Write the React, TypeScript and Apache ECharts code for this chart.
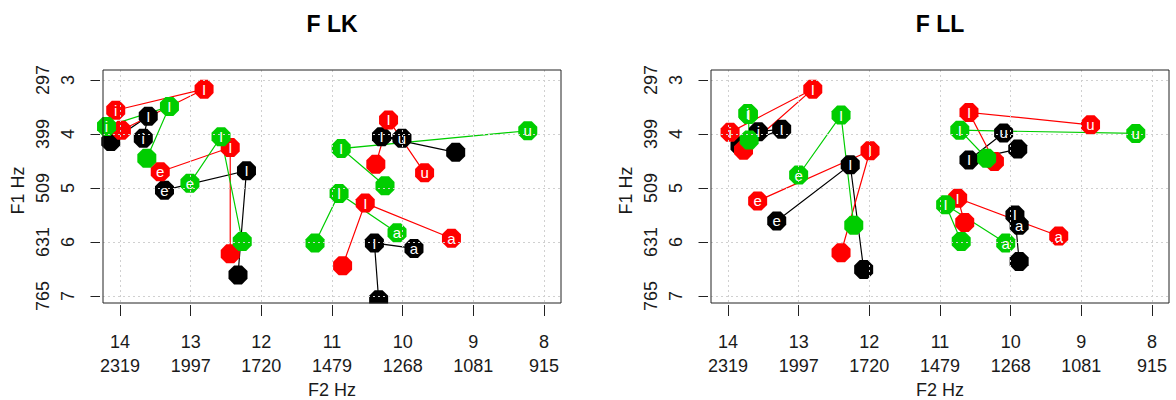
import React, { useEffect, useRef } from "react";
import * as echarts from "echarts";

const FONT = '"Liberation Sans", Arial, Helvetica, sans-serif';

// Tick values (Bark) and their Hz labels
const xBarkTicks = [8, 9, 10, 11, 12, 13, 14];
const xHzLabels = ["915", "1081", "1268", "1479", "1720", "1997", "2319"];
const yBarkTicks = [3, 4, 5, 6, 7];
const yHzLabels = ["297", "399", "509", "631", "765"];

const panelTitles = ["F LK", "F LL"];
const HUB = "I";

// Each group: [vowel, vowelF2, vowelF1, hubF2, hubF1, endF2, endF1] in Bark
const lkBlack = [
  ["i", 13.67, 4.08, 13.6, 3.67, 14.13, 4.14],
  ["e", 13.37, 5.04, 12.21, 4.68, 12.33, 6.61],
  ["u", 10.01, 4.08, 10.3, 4.05, 9.25, 4.34],
  ["a", 9.84, 6.12, 10.4, 6.02, 10.34, 7.07],
];
const lkRed = [
  ["i", 14.06, 3.56, 12.81, 3.17, 13.98, 3.93],
  ["e", 13.43, 4.7, 12.44, 4.25, 12.44, 6.22],
  ["u", 9.69, 4.72, 10.2, 3.74, 10.38, 4.56],
  ["a", 9.31, 5.93, 10.53, 5.28, 10.85, 6.44],
];
const lkGreen = [
  ["i", 14.19, 3.86, 13.3, 3.49, 13.62, 4.45],
  ["e", 13.01, 4.91, 12.57, 4.05, 12.27, 5.99],
  ["u", 8.23, 3.94, 10.87, 4.27, 10.25, 4.96],
  ["a", 10.08, 5.83, 10.9, 5.1, 11.24, 6.02],
];
const llBlack = [
  ["i", 13.57, 3.96, 13.24, 3.91, 13.83, 4.22],
  ["e", 13.31, 5.61, 12.27, 4.57, 12.08, 6.51],
  ["u", 10.1, 3.98, 10.59, 4.48, 9.9, 4.28],
  ["a", 9.88, 5.69, 9.94, 5.5, 9.88, 6.36],
];
const llRed = [
  ["i", 13.97, 3.97, 12.8, 3.17, 13.78, 4.3],
  ["e", 13.58, 5.24, 11.99, 4.31, 12.4, 6.2],
  ["u", 8.87, 3.83, 10.59, 3.6, 10.23, 4.51],
  ["a", 9.32, 5.89, 10.75, 5.19, 10.65, 5.64],
];
const llGreen = [
  ["i", 13.72, 3.62, 13.71, 3.64, 13.7, 4.11],
  ["e", 13.0, 4.76, 12.4, 3.65, 12.22, 5.69],
  ["u", 8.23, 3.99, 10.72, 3.93, 10.34, 4.45],
  ["a", 10.07, 6.02, 10.92, 5.31, 10.7, 5.99],
];

const colors = { black: "#000000", red: "#FF0000", green: "#00CD00" };

const panels = [
  [
    { groups: lkBlack, color: colors.black },
    { groups: lkRed, color: colors.red },
    { groups: lkGreen, color: colors.green },
  ],
  [
    { groups: llBlack, color: colors.black },
    { groups: llRed, color: colors.red },
    { groups: llGreen, color: colors.green },
  ],
];

const OCTAGON = (() => {
  const pts: string[] = [];
  for (let k = 0; k < 8; k++) {
    const a = ((22.5 + 45 * k) * Math.PI) / 180;
    pts.push(`${(50 + 50 * Math.cos(a)).toFixed(3)} ${(50 + 50 * Math.sin(a)).toFixed(3)}`);
  }
  return "path://M" + pts.join(" L") + " Z";
})();

const GRID_TOP = 70;
const GRID_H = 233;
const GRID_W = 458;
const GRID_LEFTS = [103, 711];

function buildOption() {
  const grids = GRID_LEFTS.map((left) => ({ left, top: GRID_TOP, width: GRID_W, height: GRID_H, show: false }));
  const xAxes = GRID_LEFTS.map((_, i) => ({
    type: "value",
    gridIndex: i,
    min: 7.76,
    max: 14.24,
    inverse: true,
    position: "bottom",
    offset: 2,
    z: 60,
    axisLine: { show: false },
    axisTick: { show: true, length: 11, customValues: xBarkTicks, lineStyle: { color: "#222", width: 1 } },
    axisLabel: {
      customValues: xBarkTicks,
      formatter: (v: number) => {
        const idx = xBarkTicks.indexOf(Math.round(v));
        return `${Math.round(v)}\n${xHzLabels[idx]}`;
      },
      fontSize: 18,
      lineHeight: 24,
      margin: 25,
      color: "#1a1a1a",
      fontFamily: FONT,
    },
    splitLine: { show: true, lineStyle: { color: "#d0d0d0", type: [2, 3], width: 1 } },
  }));
  const yAxes = GRID_LEFTS.map((_, i) => ({
    type: "value",
    gridIndex: i,
    min: 2.815,
    max: 7.13,
    inverse: true,
    position: "left",
    offset: 3,
    z: 60,
    axisLine: { show: false },
    axisTick: { show: true, length: 9.5, customValues: yBarkTicks, lineStyle: { color: "#222", width: 1 } },
    axisLabel: {
      customValues: yBarkTicks,
      rotate: 90,
      formatter: (v: number) => {
        const idx = yBarkTicks.indexOf(Math.round(v));
        return `${yHzLabels[idx]}\n${Math.round(v)}`;
      },
      fontSize: 18,
      lineHeight: 25,
      margin: 20,
      color: "#1a1a1a",
      fontFamily: FONT,
    },
    splitLine: { show: true, lineStyle: { color: "#d0d0d0", type: [2, 3], width: 1 } },
  }));

  const series: any[] = [];
  panels.forEach((panel, p) => {
    panel.forEach(({ groups, color }) => {
      series.push({
        type: "lines",
        coordinateSystem: "cartesian2d",
        xAxisIndex: p,
        yAxisIndex: p,
        polyline: true,
        silent: true,
        z: 2,
        lineStyle: { color, width: 1.2, opacity: 1 },
        data: groups.map((g: any) => ({
          coords: [
            [g[1], g[2]],
            [g[3], g[4]],
            [g[5], g[6]],
          ],
        })),
      });
    });
  });
  panels.forEach((panel, p) => {
    panel.forEach(({ groups, color }) => {
      series.push({
        type: "scatter",
        xAxisIndex: p,
        yAxisIndex: p,
        symbol: OCTAGON,
        symbolSize: 19,
        silent: true,
        z: 3,
        itemStyle: { color, opacity: 1 },
        label: {
          show: true,
          position: "inside",
          color: "#ffffff",
          fontSize: 15,
          fontFamily: FONT,
          formatter: (prm: any) => prm.value[2] || "",
        },
        data: groups.flatMap((g: any) => [
          [g[1], g[2], g[0]],
          [g[3], g[4], HUB],
          [g[5], g[6], ""],
        ]),
      });
    });
  });

  const graphics: any[] = [];
  GRID_LEFTS.forEach((left, i) => {
    const cx = left + GRID_W / 2;
    graphics.push({
      type: "rect",
      z: 50,
      silent: true,
      shape: { x: left - 20, y: GRID_TOP + GRID_H + 0.5, width: GRID_W + 40, height: 14 },
      style: { fill: "#ffffff" },
    });
    graphics.push({
      type: "rect",
      z: 100,
      silent: true,
      shape: { x: left, y: GRID_TOP, width: GRID_W, height: GRID_H },
      style: { fill: "none", stroke: "#222", lineWidth: 1 },
    });
    graphics.push({
      type: "text",
      z: 100,
      x: cx,
      y: 24,
      style: {
        text: panelTitles[i],
        fontSize: 23,
        fontWeight: "bold",
        fontFamily: FONT,
        fill: "#000",
        align: "center",
        verticalAlign: "middle",
      },
    });
    graphics.push({
      type: "text",
      z: 100,
      x: cx,
      y: 390,
      style: {
        text: "F2 Hz",
        fontSize: 18,
        fontFamily: FONT,
        fill: "#1a1a1a",
        align: "center",
        verticalAlign: "middle",
      },
    });
    graphics.push({
      type: "text",
      z: 100,
      x: left - 85,
      y: GRID_TOP + GRID_H / 2 + 4,
      rotation: Math.PI / 2,
      style: {
        text: "F1 Hz",
        fontSize: 18,
        fontFamily: FONT,
        fill: "#1a1a1a",
        align: "center",
        verticalAlign: "middle",
      },
    });
  });

  return {
    animation: false,
    backgroundColor: "#ffffff",
    grid: grids,
    xAxis: xAxes,
    yAxis: yAxes,
    series,
    graphic: graphics,
  };
}

export default function App() {
  const ref = useRef<HTMLDivElement>(null);
  useEffect(() => {
    if (!ref.current) return;
    const chart = echarts.init(ref.current, null, { renderer: "svg" });
    chart.setOption(buildOption() as any);
    return () => chart.dispose();
  }, []);
  return (
    <div
      ref={ref}
      style={{ position: "absolute", left: 0, top: 0, width: 1176, height: 400, background: "#fff" }}
    />
  );
}
